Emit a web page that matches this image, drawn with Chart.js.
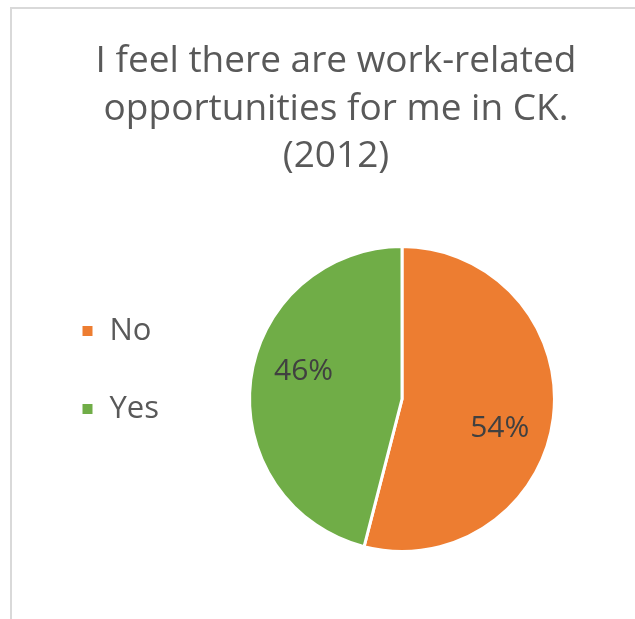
<!DOCTYPE html>
<html>
<head>
<meta charset="utf-8">
<script src="https://cdn.jsdelivr.net/npm/chart.js@4.4.1/dist/chart.umd.min.js"></script>
<style>
  html, body { margin: 0; padding: 0; background: #fff; }
  #frame { position: absolute; left: 10px; top: 7px; width: 700px; height: 700px; border: 2px solid #d9d9d9; }
  #wrap { position: absolute; left: 0; top: 0; width: 635px; height: 619px; }
</style>
</head>
<body>
<div id="frame"></div>
<div id="wrap"><canvas id="chart" width="635" height="619"></canvas></div>
<script>
// chart data
const titleLines = ["I feel there are work-related", "opportunities for me in CK.", "(2012)"];
const categories = ["No", "Yes"];
const shares = [54, 46];
const sliceColors = ["#ED7D31", "#70AD47"];

const textGray = "#595959";
const fontFamily = "'Open Sans', sans-serif";

// draws the % labels inside each slice (placed a bit past the middle of the sweep, like Excel does)
const sliceLabels = {
  id: "sliceLabels",
  afterDatasetsDraw(chart) {
    const ctx = chart.ctx;
    const meta = chart.getDatasetMeta(0);
    ctx.save();
    ctx.font = "30px " + fontFamily;
    ctx.fillStyle = "#404040";
    ctx.textAlign = "center";
    ctx.textBaseline = "middle";
    meta.data.forEach((arc, i) => {
      const p = arc.getProps(["x", "y", "startAngle", "endAngle", "outerRadius"], true);
      const ang = p.startAngle + (p.endAngle - p.startAngle) * 0.55;
      const r = p.outerRadius * 0.67;
      ctx.fillText(shares[i] + "%", p.x + Math.cos(ang) * r, p.y + Math.sin(ang) * r);
    });
    ctx.restore();
  }
};

new Chart(document.getElementById("chart"), {
  type: "pie",
  data: {
    labels: categories,
    datasets: [{
      data: shares,
      backgroundColor: sliceColors,
      borderColor: "#ffffff",
      borderWidth: 3
    }]
  },
  options: {
    responsive: false,
    animation: false,
    layout: { padding: { top: 0, left: 34, right: -3, bottom: 66 } },
    plugins: {
      title: {
        display: true,
        text: titleLines,
        color: textGray,
        font: { family: fontFamily, size: 37, weight: "normal", lineHeight: 1.28 },
        padding: { top: 38, bottom: 65 }
      },
      legend: {
        position: "left",
        // empty title only pushes the two entries down to where they sit in the original
        title: { display: true, text: "", font: { size: 10, lineHeight: 1.2 }, padding: { top: 175, bottom: 0 } },
        labels: {
          color: textGray,
          font: { family: fontFamily, size: 31 },
          boxWidth: 13,
          boxHeight: 13,
          padding: 47
        }
      },
      tooltip: { enabled: false }
    }
  },
  plugins: [sliceLabels]
});
</script>
</body>
</html>
